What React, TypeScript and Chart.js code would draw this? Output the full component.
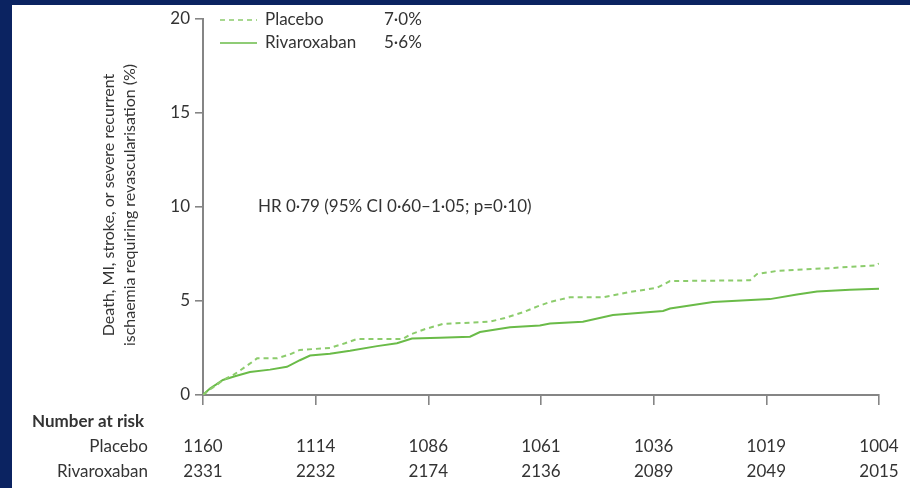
import React, { useEffect, useRef } from "react";
import { Chart, registerables } from "chart.js";

Chart.register(...registerables);

// ---------- data ----------
const seriesNames = ["Placebo", "Rivaroxaban"];
const endLabels = ["7·0%", "5·6%"];
const hrText = "HR 0·79 (95% CI 0·60–1·05; p=0·10)";
const yTitleLines = [
  "Death, MI, stroke, or severe recurrent",
  "ischaemia requiring revascularisation (%)",
];
const xTicks = [0, 60, 120, 180, 240, 300, 360];
const yTicks = [0, 5, 10, 15, 20];
const riskLabel = "Number at risk";
const riskPlacebo = [1160, 1114, 1086, 1061, 1036, 1019, 1004];
const riskRivaroxaban = [2331, 2232, 2174, 2136, 2089, 2049, 2015];

const placeboDays = [0, 3.7, 6.9, 10.6, 16, 19.7, 24, 28.8, 39.4, 46, 51.6, 67.6, 75.6, 82, 106.5, 110, 118, 127.8, 152.8, 160.8, 170.4, 177.8, 184.8, 195.4, 213, 227.4, 241.7, 248.7, 291.3, 295, 305.6, 333.9, 358.9, 360];
const placeboPct = [0, 0.3, 0.5, 0.8, 1.06, 1.3, 1.6, 1.95, 1.95, 2.15, 2.4, 2.5, 2.75, 2.98, 2.98, 3.2, 3.5, 3.78, 3.9, 4.1, 4.4, 4.7, 4.95, 5.2, 5.2, 5.48, 5.7, 6.06, 6.1, 6.43, 6.6, 6.75, 6.9, 7.0];

const rivaDays = [0, 3.7, 6.9, 10.6, 17, 25, 35.7, 44.7, 51.6, 57, 67.6, 78.3, 92.7, 103.3, 111.3, 126, 142.2, 147.5, 163.5, 179.4, 184.8, 202.3, 218.3, 245, 248.7, 271.6, 301.9, 316.3, 327, 344.5, 360];
const rivaPct = [0, 0.35, 0.55, 0.8, 1.0, 1.22, 1.35, 1.5, 1.85, 2.1, 2.2, 2.35, 2.6, 2.75, 3.0, 3.05, 3.1, 3.35, 3.6, 3.7, 3.8, 3.9, 4.25, 4.47, 4.6, 4.95, 5.1, 5.35, 5.5, 5.6, 5.65];

// ---------- style ----------
const FONT = "Lato, 'Liberation Sans', sans-serif";
const TEXT = "#333333";
const AXIS = "#858585";
const GREEN_DASH = "#8ccc6c";
const GREEN_SOLID = "#6abb48";

const toPoints = (xs: number[], ys: number[]) => xs.map((x, i) => ({ x, y: ys[i] }));

const textPlugin = {
  id: "annotText",
  afterDraw(chart: any) {
    const ctx = chart.ctx as CanvasRenderingContext2D;
    const xs = chart.scales.x;
    ctx.save();
    ctx.fillStyle = TEXT;
    ctx.textBaseline = "middle";

    // legend
    const legendY = [20, 43];
    const styles = [
      { color: GREEN_DASH, dash: [5, 4] },
      { color: GREEN_SOLID, dash: [] as number[] },
    ];
    legendY.forEach((y, i) => {
      ctx.save();
      ctx.strokeStyle = styles[i].color;
      ctx.lineWidth = 1.6;
      ctx.setLineDash(styles[i].dash);
      ctx.beginPath();
      ctx.moveTo(220, y);
      ctx.lineTo(257, y);
      ctx.stroke();
      ctx.restore();
      ctx.font = `17px ${FONT}`;
      ctx.textAlign = "left";
      ctx.fillText(seriesNames[i], 265, y);
      ctx.fillText(endLabels[i], 384, y);
    });

    // HR text
    ctx.font = `17px ${FONT}`;
    ctx.textAlign = "left";
    ctx.fillText(hrText, 258, 207);

    // y title
    ctx.save();
    ctx.translate(109, 205);
    ctx.rotate(-Math.PI / 2);
    ctx.textAlign = "center";
    ctx.font = `16px ${FONT}`;
    ctx.fillText(yTitleLines[0], 0, 0);
    ctx.fillText(yTitleLines[1], 0, 21);
    ctx.restore();

    // number at risk
    ctx.font = `bold 17px ${FONT}`;
    ctx.textAlign = "left";
    ctx.fillText(riskLabel, 32, 422);
    ctx.font = `17px ${FONT}`;
    ctx.textAlign = "right";
    ctx.fillText(seriesNames[0], 148, 447);
    ctx.fillText(seriesNames[1], 148, 472);
    ctx.textAlign = "center";
    xTicks.forEach((t, i) => {
      const px = xs.getPixelForValue(t);
      ctx.fillText(String(riskPlacebo[i]), px, 447);
      ctx.fillText(String(riskRivaroxaban[i]), px, 472);
    });
    ctx.restore();
  },
};

export default function App() {
  const ref = useRef<HTMLCanvasElement | null>(null);

  useEffect(() => {
    if (!ref.current) return;
    const chart = new Chart(ref.current, {
      type: "line",
      data: {
        datasets: [
          {
            label: seriesNames[0],
            data: toPoints(placeboDays, placeboPct),
            borderColor: GREEN_DASH,
            borderWidth: 2,
            borderDash: [5, 4],
            pointRadius: 0,
            tension: 0,
          },
          {
            label: seriesNames[1],
            data: toPoints(rivaDays, rivaPct),
            borderColor: GREEN_SOLID,
            borderWidth: 2,
            pointRadius: 0,
            tension: 0,
          },
        ],
      },
      options: {
        responsive: false,
        animation: false,
        devicePixelRatio: 1,
        layout: { padding: { left: 0, top: 19, right: 31, bottom: 83 } },
        plugins: {
          legend: { display: false },
          tooltip: { enabled: false },
          title: { display: false },
        },
        scales: {
          x: {
            type: "linear",
            min: 0,
            max: 360,
            afterBuildTicks: (s: any) => {
              s.ticks = xTicks.map((v) => ({ value: v }));
            },
            afterFit: (s: any) => {
              s.height = 10;
            },
            ticks: { display: false },
            grid: {
              drawOnChartArea: false,
              drawTicks: true,
              tickLength: 10,
              color: AXIS,
              lineWidth: 1.6,
            },
            border: { display: true, color: AXIS, width: 2 },
          },
          y: {
            type: "linear",
            min: 0,
            max: 20,
            afterBuildTicks: (s: any) => {
              s.ticks = yTicks.map((v) => ({ value: v }));
            },
            afterFit: (s: any) => {
              s.width = 203;
            },
            ticks: {
              color: TEXT,
              font: { family: FONT, size: 17 },
              padding: 5,
            },
            grid: {
              drawOnChartArea: false,
              drawTicks: true,
              tickLength: 8,
              color: AXIS,
              lineWidth: 1.6,
            },
            border: { display: true, color: AXIS, width: 2 },
          },
        },
      },
      plugins: [textPlugin],
    });
    return () => chart.destroy();
  }, []);

  return (
    <div style={{ position: "absolute", left: 0, top: 0, width: 910, height: 488, background: "#0b2361", overflow: "hidden" }}>
      <div style={{ position: "absolute", left: 12, top: 5, right: 0, bottom: 0, background: "#ffffff" }} />
      <canvas ref={ref} width={910} height={488} style={{ position: "absolute", left: 0, top: 0, width: 910, height: 488 }} />
    </div>
  );
}
